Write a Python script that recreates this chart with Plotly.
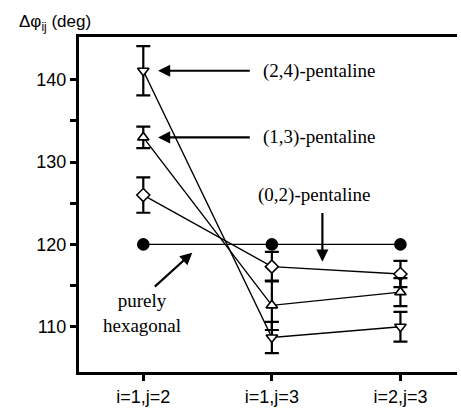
import plotly.graph_objects as go

categories = ["i=1,j=2", "i=1,j=3", "i=2,j=3"]
xpos = [0, 1, 2]

hexagonal = [120.0, 120.0, 120.0]
pent24 = [141.1, 108.7, 110.0]
pent24_err = [3.0, 1.9, 1.8]
pent13 = [133.0, 112.6, 114.2]
pent13_err = [1.3, 3.0, 1.7]
pent02 = [126.0, 117.3, 116.4]
pent02_err = [2.15, 1.8, 1.6]

fig = go.Figure()

def add_series(y, err, symbol, filled=False):
    kw = {}
    if err is not None:
        kw["error_y"] = dict(type="data", array=err, color="black",
                             thickness=2.2, width=7)
    fig.add_trace(go.Scatter(
        x=xpos, y=y, mode="lines+markers",
        line=dict(color="black", width=1.4),
        marker=dict(symbol=symbol, size=11 if filled else 10,
                    color="black" if filled else "white",
                    line=dict(color="black", width=1.6)),
        showlegend=False, **kw,
    ))

add_series(hexagonal, None, "circle", filled=True)
add_series(pent02, pent02_err, "diamond")
add_series(pent13, pent13_err, "triangle-up")
add_series(pent24, pent24_err, "triangle-down")

serif = dict(family="Liberation Serif", size=19, color="black")
sans = dict(family="Liberation Sans", size=18, color="black")

def arrow(tx, ty, ax, ay):
    fig.add_annotation(x=tx, y=ty, ax=ax, ay=ay, xref="x", yref="y",
                       axref="x", ayref="y", text="", showarrow=True,
                       arrowhead=2, arrowsize=1.1, arrowwidth=2.2,
                       arrowcolor="black")

arrow(0.115, 141.1, 0.84, 141.1)
arrow(0.115, 133.0, 0.84, 133.0)
arrow(1.393, 117.9, 1.393, 124.0)
arrow(0.381, 119.0, 0.078, 114.7)

def label(x, y, text, anchor):
    fig.add_annotation(x=x, y=y, xref="x", yref="y", text=text,
                       showarrow=False, xanchor=anchor, font=serif)

label(0.915, 141.1, "(2,4)-pentaline", "left")
label(0.915, 133.0, "(1,3)-pentaline", "left")
label(1.33, 126.0, "(0,2)-pentaline", "center")
label(-0.01, 111.7, "purely<br>hexagonal", "center")

fig.add_annotation(x=0, y=1, xref="paper", yref="paper",
                   xshift=-62, yshift=14, xanchor="left", yanchor="middle",
                   text="Δφ<sub>ij</sub> (deg)", showarrow=False,
                   font=dict(family="Liberation Sans", size=17, color="black"))

fig.update_layout(
    width=461, height=413,
    margin=dict(l=79, r=4, t=37, b=41),
    paper_bgcolor="white", plot_bgcolor="white",
    xaxis=dict(range=[-0.5, 2.44], tickvals=xpos, ticktext=categories,
               showline=True, linecolor="black", linewidth=3, mirror=True,
               ticks="outside", ticklen=6, tickwidth=2.5, tickcolor="black",
               showgrid=False, zeroline=False, tickfont=sans),
    yaxis=dict(range=[104.5, 145.2], tickvals=[110, 120, 130, 140],
               showline=True, linecolor="black", linewidth=3,
               ticks="outside", ticklen=6, tickwidth=2.5, tickcolor="black",
               minor=dict(tickvals=[115, 125, 135], ticks="outside", ticklen=6,
                          tickwidth=2.5, tickcolor="black", showgrid=False),
               showgrid=False, zeroline=False, tickfont=sans),
)

fig.write_html("out.html")
